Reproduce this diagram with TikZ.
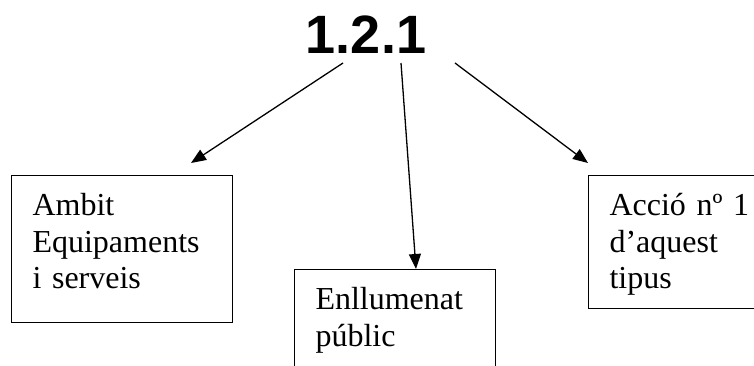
\documentclass[tikz,border=0pt]{standalone}
\usepackage{fontspec}
\usetikzlibrary{arrows.meta}
\newfontfamily\boxfont{Liberation Serif}
\newfontfamily\titlefont{Liberation Sans}
\newcommand\boxtext{\boxfont\fontsize{32}{36.5}\selectfont}
\newcommand\titletext{\titlefont\bfseries\fontsize{54}{60}\selectfont}

\begin{document}
\begin{tikzpicture}[x=1pt, y=1pt,
    box/.style={draw, line width=1pt, anchor=north west, align=left,
      inner xsep=21pt, inner ysep=0pt, text height=40pt, font=\boxtext},
    link/.style={line width=1.3pt, -{Triangle[length=15pt, width=12pt]}}]
  \useasboundingbox (0,0) rectangle (754,365);
  \node[font=\titletext, inner sep=0pt, anchor=base] (title) at (366,312) {1.2.1};
  \node[box, text width=179pt, text depth=107pt] (ambit) at (11,190) {Ambit\\Equipaments\\i serveis};
  \node[box, text width=159pt, text depth=120pt] (enllumenat) at (294,96) {Enllumenat\\públic};
  \node[box, text width=150pt, text depth=93pt] (accio) at (588,190) {Acció nº 1\\d’aquest\\tipus};
  \draw[link] ([shift={(-23pt,-10pt)}]title.base) -- ([shift={(-42pt,12pt)}]ambit.north east);
  \draw[link] ([shift={(35pt,-10pt)}]title.base) -- ([xshift=21pt]enllumenat.north);
  \draw[link] ([shift={(89pt,-10pt)}]title.base) -- ([yshift=12pt]accio.north west);
\end{tikzpicture}
\end{document}
